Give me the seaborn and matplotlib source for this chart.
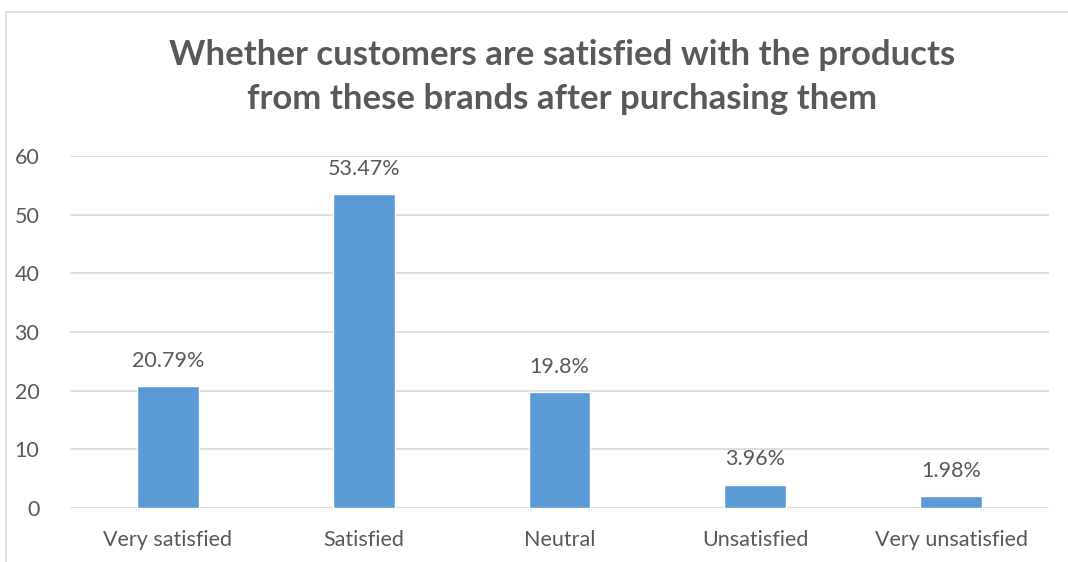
import matplotlib
matplotlib.use("Agg")
import matplotlib.pyplot as plt
import seaborn as sns
import pandas as pd
from matplotlib.patches import Rectangle

categories = ["Very satisfied", "Satisfied", "Neutral", "Unsatisfied", "Very unsatisfied"]
values = [20.79, 53.47, 19.8, 3.96, 1.98]
labels = ["20.79%", "53.47%", "19.8%", "3.96%", "1.98%"]
yticks = [0, 10, 20, 30, 40, 50, 60]
title = "Whether customers are satisfied with the products\nfrom these brands after purchasing them"

sns.set_theme(style="white")
plt.rcParams['font.family'] = ['Lato', 'DejaVu Sans']
TXT = "#595959"

W, H = 1068, 562
fig = plt.figure(figsize=(W / 100, H / 100), dpi=100)
ax = fig.add_axes([70 / W, 1 - 508 / H, (1049 - 70) / W, (508 - 156) / H])

df = pd.DataFrame({"cat": categories, "val": values})
sns.barplot(data=df, x="cat", y="val", color="#5B9BD5", saturation=1, width=0.316, ax=ax, zorder=3)

ax.set_ylim(0, 60)
ax.set_xlim(-0.5, 4.5)
ax.set_yticks(yticks)
ax.yaxis.grid(True, color="#D9D9D9", linewidth=1.2, zorder=0)
ax.set_axisbelow(True)
for s in ax.spines.values():
    s.set_visible(False)
ax.set_xlabel("")
ax.set_ylabel("")
ax.tick_params(axis="both", length=0, colors=TXT, labelsize=15.5)
ax.tick_params(axis="y", pad=22)
ax.tick_params(axis="x", pad=16)

for i, (v, lab) in enumerate(zip(values, labels)):
    ax.annotate(lab, (i, v), xytext=(0, 11), textcoords="offset points",
                ha="center", va="bottom", fontsize=15.5, color=TXT)

fig.text(0.5 + (562 - 534) / W, 1 - 77 / H, title, ha="center", va="center",
         fontsize=25, fontweight="bold", color=TXT, linespacing=1.45)

fig.patches.append(Rectangle((6 / W, -0.1), 1.1, 1 - 12 / H + 0.1, transform=fig.transFigure,
                             fill=False, edgecolor="#D9D9D9", linewidth=1.2))

fig.savefig("out.png", dpi=100, facecolor="white")
